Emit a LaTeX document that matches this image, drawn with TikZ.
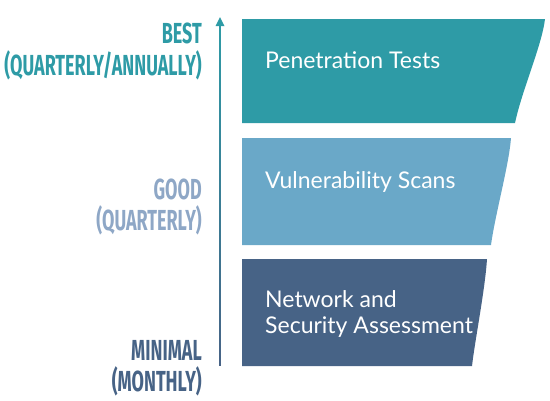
\documentclass[tikz,border=0pt]{standalone}
\usepackage{fontspec}
\setmainfont{Lato}
\newfontfamily\labfont{Fira Sans}[FakeStretch=0.62]
\usepackage{xcolor}
\usetikzlibrary{positioning, arrows.meta}

\definecolor{bestc}{HTML}{2E9BA6}
\definecolor{goodc}{HTML}{6AA8C8}
\definecolor{goodtxt}{HTML}{8EA7C6}
\definecolor{minc}{HTML}{476386}

\begin{document}
\begin{tikzpicture}[x=1pt, y=-1pt,
    bandtxt/.style={anchor=base west, text=white, font=\fontsize{23}{26}\selectfont,
                    align=left, inner sep=0pt},
    lvl/.style={anchor=base east, font=\labfont\bfseries\fontsize{29}{29}\selectfont,
                inner sep=0pt},
]
\useasboundingbox (0,0) rectangle (550,400);

% Bands (widest on top)
\fill[bestc] (242,19) -- (545,19) .. controls (542,45) and (522,90) .. (515,123)
    -- (242,123) -- cycle;
\fill[goodc] (242,138) -- (511,138) .. controls (509,165) and (495,215) .. (491,245)
    -- (242,245) -- cycle;
\fill[minc]  (242,259) -- (487,259) .. controls (485,290) and (475,340) .. (472,366)
    -- (242,366) -- cycle;

\node[bandtxt] (pen)  at (265,68)  {Penetration Tests};
\node[bandtxt] (vuln) at (265,188) {Vulnerability Scans};
\node[bandtxt] (net)  at (265,333) {Network and\\Security Assessment};

% Axis arrow
\coordinate (axtop) at (220,17);
\coordinate (axbot) at (220,365);
\shade[top color=bestc, bottom color=minc] (219.2,24) rectangle (220.8,365);
\fill[bestc] (axtop) -- (224.5,26) -- (215.5,26) -- cycle;

% Levels
\node[lvl, text=bestc] (best)  at (202,43)  {BEST};
\node[lvl, text=bestc] (bestf) at (202,75)  {(QUARTERLY/ANNUALLY)};
\node[lvl, text=goodtxt] (good)  at (202,199) {GOOD};
\node[lvl, text=goodtxt] (goodf) at (202,230) {(QUARTERLY)};
\node[lvl, text=minc] (minl)  at (202,360) {MINIMAL};
\node[lvl, text=minc] (minf)  at (202,391) {(MONTHLY)};

\end{tikzpicture}
\end{document}
